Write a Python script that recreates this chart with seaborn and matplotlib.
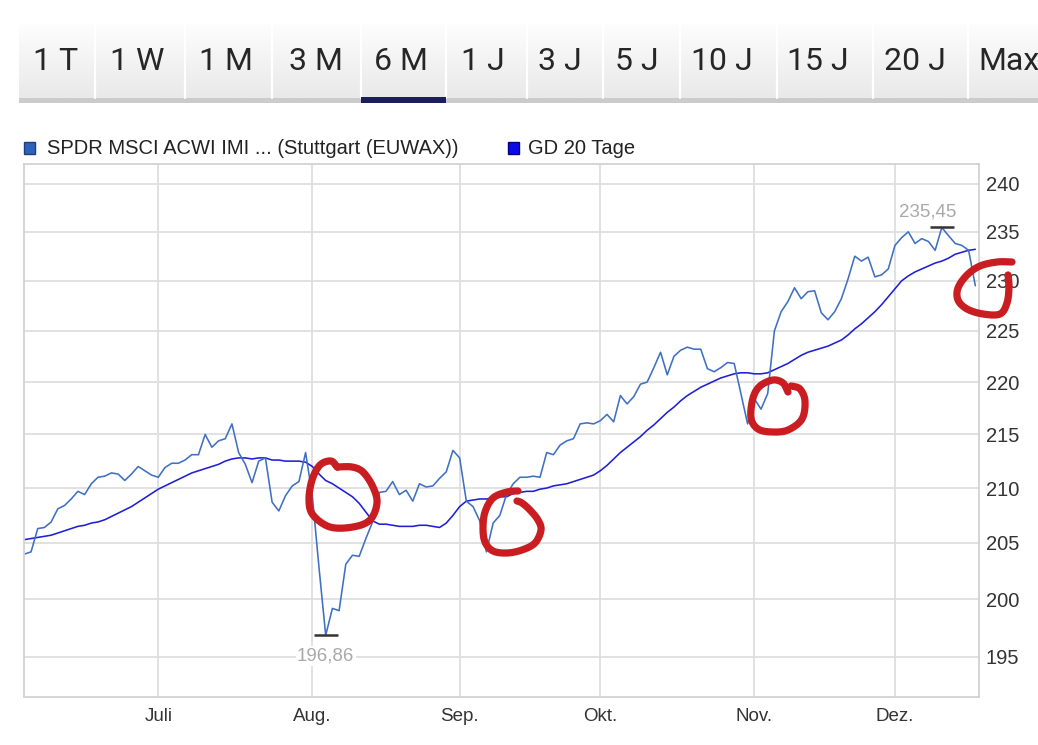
import numpy as np
import pandas as pd
import matplotlib
matplotlib.use("Agg")
import matplotlib.pyplot as plt
import seaborn as sns
from matplotlib.patches import Rectangle
from matplotlib.ticker import FixedLocator, FuncFormatter, NullLocator

# ---------------- data ----------------
price = [204.0, 204.2, 206.3, 206.4, 206.9, 208.1, 208.4, 209.0, 209.7, 209.4,
         210.4, 211.0, 211.1, 211.4, 211.3, 210.7, 211.3, 212.0, 211.6, 211.2,
         211.0, 211.9, 212.3, 212.3, 212.6, 213.1, 213.1, 215.0, 213.8, 214.4,
         214.6, 216.0, 213.3, 212.2, 210.5, 212.5, 212.8, 208.7, 207.9, 209.3,
         210.2, 210.6, 213.3, 209.3, 202.8, 196.86, 199.2, 199.0, 203.1, 203.9,
         203.8, 205.4, 206.9, 209.6, 209.7, 210.6, 209.4, 209.8, 208.8, 210.4,
         210.1, 210.2, 210.9, 211.5, 213.5, 212.8, 208.8, 208.3, 207.0, 204.2,
         206.8, 207.5, 209.4, 210.4, 211.0, 211.0, 211.1, 211.0, 213.3, 213.1,
         214.0, 214.4, 214.6, 216.0, 216.1, 216.0, 216.3, 216.9, 216.2, 218.7,
         217.9, 218.6, 219.8, 220.0, 221.4, 222.9, 220.7, 222.5, 223.1, 223.4,
         223.2, 223.2, 221.3, 221.0, 221.4, 221.9, 221.8, 218.9, 216.0, 218.4,
         217.4, 218.9, 225.0, 226.9, 227.9, 229.3, 228.2, 228.9, 229.0, 226.8,
         226.1, 226.9, 228.2, 230.2, 232.5, 232.0, 232.4, 230.4, 230.6, 231.2,
         233.6, 234.4, 235.0, 233.8, 234.3, 234.0, 233.1, 235.45, 234.6, 233.8,
         233.6, 233.1, 229.5]

ma20 = [205.3, 205.4, 205.5, 205.6, 205.7, 205.9, 206.1, 206.3, 206.5, 206.6,
        206.8, 206.9, 207.1, 207.4, 207.7, 208.0, 208.3, 208.7, 209.1, 209.5,
        209.9, 210.2, 210.5, 210.8, 211.1, 211.4, 211.6, 211.8, 212.0, 212.2,
        212.5, 212.7, 212.8, 212.8, 212.7, 212.8, 212.8, 212.6, 212.6, 212.5,
        212.5, 212.5, 212.4, 212.0, 211.3, 210.7, 210.4, 210.0, 209.6, 209.2,
        208.6, 207.8, 207.0, 206.7, 206.7, 206.6, 206.5, 206.5, 206.5, 206.6,
        206.6, 206.5, 206.4, 206.8, 207.5, 208.3, 208.8, 208.9, 209.0, 209.0,
        209.1, 209.2, 209.2, 209.5, 209.6, 209.7, 209.7, 209.9, 210.0, 210.2,
        210.3, 210.4, 210.6, 210.8, 211.0, 211.2, 211.6, 212.1, 212.7, 213.3,
        213.8, 214.3, 214.8, 215.4, 215.9, 216.5, 217.1, 217.6, 218.2, 218.7,
        219.1, 219.5, 219.8, 220.1, 220.4, 220.6, 220.8, 220.9, 220.9, 220.8,
        220.8, 220.9, 221.2, 221.5, 221.8, 222.2, 222.6, 222.9, 223.1, 223.3,
        223.5, 223.8, 224.1, 224.6, 225.2, 225.7, 226.3, 226.9, 227.6, 228.4,
        229.2, 230.0, 230.5, 230.9, 231.2, 231.5, 231.8, 232.0, 232.3, 232.7,
        232.9, 233.1, 233.2]

month_labels = ["Juli", "Aug.", "Sep.", "Okt.", "Nov.", "Dez."]
month_start_idx = [20, 43, 65, 86, 109, 130]
y_ticks = [195, 200, 205, 210, 215, 220, 225, 230, 235, 240]
series_names = ["SPDR MSCI ACWI IMI ... (Stuttgart (EUWAX))", "GD 20 Tage"]
tab_labels = ["1 T", "1 W", "1 M", "3 M", "6 M", "1 J", "3 J", "5 J",
              "10 J", "15 J", "20 J", "Max"]
selected_tab = "6 M"
low_idx, low_text = 45, "196,86"
high_idx, high_text = 137, "235,45"

# ---------------- style ----------------
W, H = 1038, 745
sns.set_theme(style="white")
plt.rcParams['font.family'] = ['Liberation Sans', 'DejaVu Sans']

fig = plt.figure(figsize=(W / 100, H / 100), dpi=100)
fig.patch.set_facecolor("white")

# main chart axes (pixel geometry of the plot frame)
L, R, T, B = 24, 979, 164, 697
ax = fig.add_axes([L / W, 1 - B / H, (R - L) / W, (B - T) / H])

df = pd.DataFrame({"idx": np.arange(len(price)), "price": price, "ma": ma20})
sns.lineplot(data=df, x="idx", y="ma", ax=ax, color="#1f1fd8", linewidth=1.15)
sns.lineplot(data=df, x="idx", y="price", ax=ax, color="#3f70c2", linewidth=1.15)

ax.set_yscale("log")
ax.set_ylim(191.6, 242.1)
ax.set_xlim(-0.05, 142.55)
ax.yaxis.set_major_locator(FixedLocator(y_ticks))
ax.yaxis.set_minor_locator(NullLocator())
ax.yaxis.set_major_formatter(FuncFormatter(lambda v, p: f"{v:.0f}"))
ax.yaxis.tick_right()
ax.set_xticks(month_start_idx)
ax.set_xticklabels(month_labels)
ax.set_xlabel("")
ax.set_ylabel("")
ax.tick_params(axis="x", length=0, labelsize=13.5, labelcolor="#333333", pad=8)
ax.tick_params(axis="y", length=0, labelsize=14.5, labelcolor="#333333", pad=5)
ax.grid(True, color="#dedede", linewidth=1.3)
ax.set_axisbelow(True)
for s in ax.spines.values():
    s.set_color("#d2d2d2")
    s.set_linewidth(1.3)

# extreme markers and labels
ax.plot([low_idx], [price[low_idx]], marker="_", ms=17, mew=1.8, color="#333333")
ax.plot([high_idx], [price[high_idx]], marker="_", ms=17, mew=1.8, color="#333333")
ax.annotate(low_text, xy=(low_idx, price[low_idx]), xytext=(0, -9),
            textcoords="offset points", ha="center", va="top",
            fontsize=13.5, color="#a9a9a9",
            bbox=dict(fc="white", ec="none", pad=1.0))
ax.annotate(high_text, xy=(high_idx, price[high_idx]), xytext=(-10, 5),
            textcoords="offset points", ha="center", va="bottom",
            fontsize=13.5, color="#a9a9a9",
            bbox=dict(fc="white", ec="none", pad=1.0))

# ---------------- overlay in pixel coordinates ----------------
ov = fig.add_axes([0, 0, 1, 1], zorder=10)
ov.set_xlim(0, W)
ov.set_ylim(H, 0)
ov.axis("off")
ov.patch.set_alpha(0)

# tab bar
grad = np.linspace(0, 1, 64).reshape(-1, 1)
ov.imshow(grad, extent=[19, W, 98, 24], cmap=matplotlib.colors.LinearSegmentedColormap.from_list(
    "tabs", ["#fdfdfd", "#e9e9e9"]), aspect="auto", zorder=1)
ov.add_patch(Rectangle((19, 98), W - 19, 5, fc="#cbcbcb", ec="none", zorder=2))
tab_edges = [19, 95, 185, 272, 361, 446, 527, 603, 680, 777, 873, 968, 1060]
tab_centers = [56, 137, 226, 316, 401, 483, 560, 637, 722, 818, 915, 1009]
for e in tab_edges[1:-1]:
    ov.plot([e, e], [24, 98], color="white", lw=1.6, zorder=3)
for lab, cx, e0, e1 in zip(tab_labels, tab_centers, tab_edges[:-1], tab_edges[1:]):
    ov.text(cx, 61, lab, ha="center", va="center", fontsize=23,
            family=["Roboto", "DejaVu Sans"], fontweight="normal",
            color="#262626", zorder=4)
    if lab == selected_tab:
        ov.add_patch(Rectangle((e0, 97), e1 - e0, 6, fc="#1b1e5c", ec="none", zorder=4))

# legend
ov.add_patch(Rectangle((24, 142), 11, 12, fc="#2f63b9", ec="#1b3c7e", lw=1, zorder=4))
ov.text(47, 149, series_names[0], ha="left", va="center", fontsize=14.5,
        color="#222222", zorder=4)
ov.add_patch(Rectangle((508, 142), 11, 12, fc="#0b0be8", ec="#00008c", lw=1, zorder=4))
ov.text(528, 149, series_names[1], ha="left", va="center", fontsize=14.5,
        color="#222222", zorder=4)


# hand-drawn red loops (annotation strokes traced in pixel space)
def stroke(pts, n=16):
    P = np.asarray(pts, float)
    P = np.vstack([P[0], P, P[-1]])
    segs = []
    t = np.linspace(0, 1, n, endpoint=False)[:, None]
    for i in range(1, len(P) - 2):
        p0, p1, p2, p3 = P[i - 1], P[i], P[i + 1], P[i + 2]
        segs.append(0.5 * (2 * p1 + (-p0 + p2) * t + (2 * p0 - 5 * p1 + 4 * p2 - p3) * t ** 2
                           + (-p0 + 3 * p1 - 3 * p2 + p3) * t ** 3))
    segs.append(P[-2][None, :])
    C = np.vstack(segs)
    ov.plot(C[:, 0], C[:, 1], color="#c91d22", lw=5.2, solid_capstyle="round",
            solid_joinstyle="round", zorder=6)


stroke([(337, 467), (331, 461), (320, 465), (312, 480), (309, 500), (313, 515),
        (330, 527), (353, 527), (370, 520), (377, 503), (373, 487), (363, 472),
        (352, 467), (338, 467)])
stroke([(518, 491), (507, 492), (493, 498), (485, 512), (483, 528), (485, 542),
        (493, 551), (507, 553), (522, 550), (535, 543), (541, 530), (538, 520),
        (530, 510), (522, 503), (517, 501)])
stroke([(788, 392), (783, 383), (773, 380), (760, 386), (753, 398), (751, 418),
        (758, 429), (772, 432), (788, 430), (802, 419), (805, 401), (800, 389),
        (791, 386)])
stroke([(1012, 262), (997, 262), (980, 266), (967, 275), (958, 288), (958, 300),
        (967, 309), (983, 314), (1000, 314), (1007, 303), (1009, 287), (1008, 275)])

fig.savefig("out.png", dpi=100)
